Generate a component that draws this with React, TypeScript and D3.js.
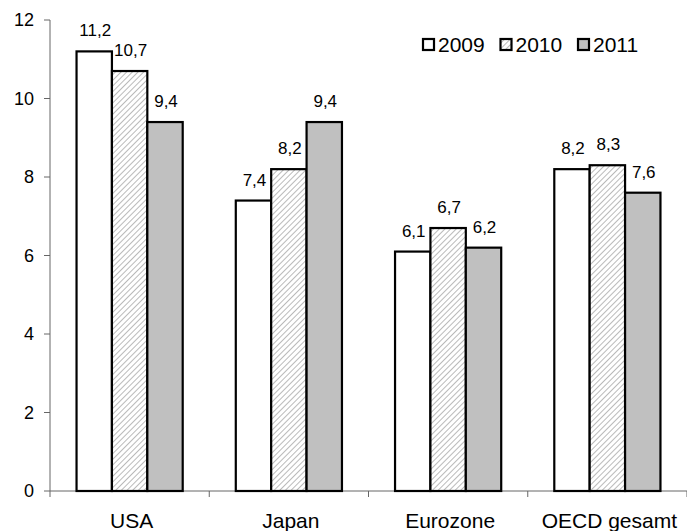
import React from "react";
import * as d3 from "d3";

const categories = ["USA", "Japan", "Eurozone", "OECD gesamt"];
const years = ["2009", "2010", "2011"];
const v2009 = [11.2, 7.4, 6.1, 8.2];
const v2010 = [10.7, 8.2, 6.7, 8.3];
const v2011 = [9.4, 9.4, 6.2, 7.6];
const yTicks = [0, 2, 4, 6, 8, 10, 12];

const W = 687, H = 531;
const left = 50, right = 687, top = 20, bottom = 491;

export default function App() {
  const series = [v2009, v2010, v2011];
  const fills = ["#ffffff", "url(#hatch)", "#c0c0c0"];
  const x = d3.scaleBand().domain(categories).range([left, right]).paddingInner(0).paddingOuter(0);
  const inner = d3.scaleBand().domain(years).range([0, x.bandwidth()]).paddingOuter(0.75).paddingInner(0);
  const y = d3.scaleLinear().domain([0, 12]).range([bottom, top]);
  const fmt = (v: number) => v.toFixed(1).replace(".", ",");
  const font = "'Liberation Sans', Arial, sans-serif";
  const catEdges = [...categories.map((c) => x(c)!), right];
  return (
    <svg width={W} height={H} style={{ position: "absolute", left: 0, top: 0 }} fontFamily={font}>
      <defs>
        <pattern id="hatch" patternUnits="userSpaceOnUse" width="4" height="4" patternTransform="rotate(45)">
          <rect width="4" height="4" fill="#ffffff" />
          <line x1="0" y1="0" x2="0" y2="4" stroke="#a8a8a8" strokeWidth="1.6" />
        </pattern>
      </defs>
      <rect width={W} height={H} fill="#fff" />
      <line x1={left} y1={top} x2={left} y2={bottom} stroke="#666" strokeWidth={1} />
      <line x1={left} y1={bottom} x2={right} y2={bottom} stroke="#666" strokeWidth={1} />
      {yTicks.map((t) => (
        <g key={t}>
          <line x1={left - 6} x2={left} y1={y(t)} y2={y(t)} stroke="#666" />
          <text x={left - 16} y={y(t)} dy="0.35em" textAnchor="end" fontSize={18} fill="#000">{t}</text>
        </g>
      ))}
      {catEdges.map((e, i) => (
        <line key={i} x1={e} x2={e} y1={bottom} y2={bottom + 6} stroke="#666" />
      ))}
      {categories.map((c) => (
        <text key={c} x={x(c)! + x.bandwidth() / 2 + 2} y={528} textAnchor="middle" fontSize={21} fill="#000">{c}</text>
      ))}
      {categories.map((c, ci) =>
        years.map((yr, si) => {
          const v = series[si][ci];
          const bx = x(c)! + inner(yr)!;
          const bw = inner.bandwidth();
          return (
            <g key={c + yr}>
              <rect x={bx} y={y(v)} width={bw} height={bottom - y(v)} fill={fills[si]} stroke="#000" strokeWidth={2.2} />
              <text x={bx + bw / 2 + 1} y={y(v) - 15} textAnchor="middle" fontSize={17} fill="#000">{fmt(v)}</text>
            </g>
          );
        })
      )}
      {years.map((yr, i) => {
        const lx = 423 + i * 77.5;
        return (
          <g key={yr}>
            <rect x={lx} y={39} width={11} height={11} fill={fills[i]} stroke="#000" strokeWidth={2.2} />
            <text x={lx + 15} y={44.5} dy="0.36em" fontSize={21} fill="#000">{yr}</text>
          </g>
        );
      })}
    </svg>
  );
}
